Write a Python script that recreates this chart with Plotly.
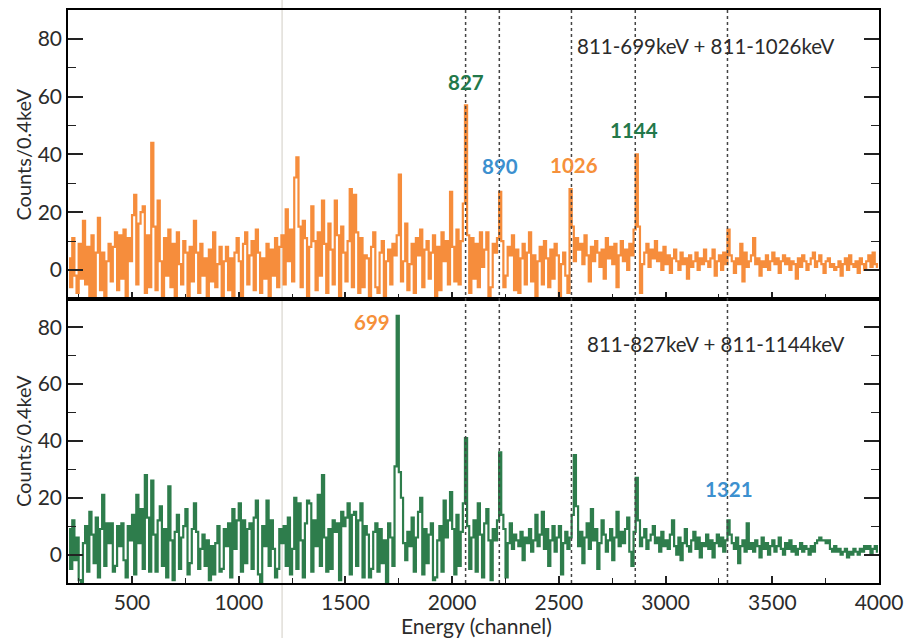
import plotly.graph_objects as go

# ---------------- data ----------------
BIN_START = 200
BIN_WIDTH = 10

# Top panel: gate 811-699keV + 811-1026keV (orange), counts per 10-channel bin
top_counts = [
    4, -6, 11, -2, -8, 9, -3, 17, -5, 8, -9, 12, -12, 6, 18, -7, 6, -11, 3, 9,
    -4, 8, 13, -7, 12, -3, 14, -9, 11, 3, 19, 26, -5, 16, 20, 22, -8, 12, -6, 44,
    15, -7, 24, 3, -10, 11, -2, 14, -6, 9, -9, 13, 2, -5, 10, 6, -11, 8, -4, 17,
    6, -8, 9, -2, 4, -12, 7, -4, 13, -6, 2, 8, -11, 3, 8, -7, 4, -9, 6, 11,
    3, -10, 9, 13, -5, 5, 10, -7, 14, 6, -8, 4, -3, 9, -12, 7, -2, 11, -6, 8,
    12, -5, 21, 3, 14, -4, 32, 39, 15, -6, 17, 11, -9, 8, 22, 10, -7, 13, -2, 24,
    9, -8, 16, 7, -5, 24, 12, -9, 15, 6, -4, 10, 28, -6, 26, 13, -8, 11, -6, 5,
    4, -9, 8, 13, -6, -8, 6, 10, -10, 3, 7, -5, 9, 5, 12, 33, -4, 3, 16, -7,
    2, 9, -8, 11, 5, 14, -6, 7, 10, -3, 6, 12, -9, 8, -7, 13, 3, 10, -5, 27,
    8, -4, 14, -5, 10, 23, 57, 12, -8, 11, -3, 9, -6, 13, 1, 7, 13, -9, -6, 9,
    6, 11, 27, 10, -6, -2, 8, 5, 12, -7, 7, -8, 4, 9, -5, 6, 13, -4, 5, -9,
    3, 8, -5, 10, 4, -6, 7, -3, 9, 5, -10, 2, 6, -2, -8, 28, 15, 3, 11, 7,
    9, 2, 12, 5, -4, 8, 3, 10, 6, 1, 7, -3, 11, 4, 8, 2, 9, -6, 5, 10,
    3, 7, 0, 9, 5, 14, 40, 15, -8, 2, 6, 9, 1, 7, 4, 10, 3, 6, 0, 8,
    2, 5, -1, 4, 7, 3, 0, 6, 2, 4, -3, 5, 1, 3, 6, 0, 4, 2, 7, 3,
    1, 4, 7, -2, 3, 5, 0, 6, 2, 14, 5, 3, -1, 4, 2, 9, -4, 6, 1, 3,
    5, 11, 2, 4, -2, 3, 1, 5, 0, 3, 6, 2, 4, -1, 3, 5, 2, 4, 0, 3,
    2, -3, 4, 1, 5, 3, 0, 2, 4, 6, 1, 3, 5, 2, -1, 3, 4, 1, 2, 0,
    1, 3, -2, 2, 4, 0, 5, 2, 1, 3, -1, 4, 2, 0, 3, 5, 1, 6, 2, 1,
]

# Bottom panel: gate 811-827keV + 811-1144keV (green)
bottom_counts = [
    9, -5, 12, -2, 6, -9, -11, 4, 10, -6, 15, 7, -3, 13, -8, 9, 21, -4, 11, 4,
    11, -6, -4, 10, 3, 11, -2, -8, 10, 5, 14, -7, 21, 4, 16, -5, 28, 13, -6, 26,
    7, -6, 12, 17, -4, 9, -8, 24, 5, -9, 8, 14, -5, 6, 10, 16, -7, -3, 9, 18,
    8, -5, 2, 7, -4, 5, -9, 3, -7, 4, 10, -6, -5, 9, 3, 11, -8, 16, 2, 12,
    18, -6, 12, -3, 9, 11, -5, 13, 19, -7, -10, 10, 3, 19, -4, 12, 2, -8, -5, 9,
    4, 10, -4, 13, -7, 2, 20, -5, 18, 5, -8, 11, 19, 18, -6, 12, 3, 21, -4, 28,
    6, -6, 9, -5, 12, 8, 11, -9, 15, 10, 13, 18, -7, 14, 15, -4, 12, 18, -8, 10,
    7, -8, -5, 8, 11, -6, 9, -3, 5, -10, 11, 6, -4, 31, 84, 29, 20, 4, -2, 8,
    3, 13, -6, 6, 15, 20, -7, 9, -3, 7, 11, -9, -8, 5, 10, -6, 19, 6, 12, 22,
    9, -7, 14, -4, 8, 18, 41, 10, -5, 6, 12, -6, 18, 7, -8, 11, 16, 5, -9, 9,
    5, 12, 36, 14, 9, -8, 4, 11, 2, 7, 5, 3, 8, -2, 6, 4, 9, 1, 5, 14,
    3, 7, 15, 2, 9, -4, 5, 10, 1, 6, 10, -7, 4, 8, 2, 6, 14, 35, 17, 3,
    8, -3, 6, 11, 2, 16, 5, 9, -5, 4, 12, 7, 1, 5, 9, -2, 6, 15, 3, 8,
    4, 9, 13, 1, -4, 8, 27, 12, 3, 6, 9, 2, 5, 7, 10, 4, 6, 1, 8, 3,
    5, 2, 7, 12, 3, 0, 6, -2, 4, 9, 3, 1, 5, 8, 2, 6, -1, 4, 3, 7,
    2, 5, -1, 4, 7, 3, 6, 1, 5, 12, 7, 4, 2, 6, -3, 3, 5, 1, 11, 2,
    4, 1, 5, 3, -1, 6, 2, 4, 0, 3, 5, 1, 3, 6, 2, 0, 4, 2, 5, 1,
    3, 0, 2, 4, 1, 3, 2, 0, 3, 1, 4, 5, 6, 5, 5, 4, 5, 2, 1, 3,
    1, 2, 0, 1, 2, -1, 1, 0, 2, 1, 0, 2, 1, 3, 2, 3, 0, 2, 3, 1,
]

# Peak positions (channel) marked with dotted lines
peak_channels = [2063, 2221, 2559, 2858, 3290]

# Peak labels: (text, channel, counts, colour-key)
top_labels = [("827", 2063, 65, "green"), ("890", 2222, 36, "blue"),
              ("1026", 2571, 36.5, "orange"), ("1144", 2852, 48.5, "green")]
bottom_labels = [("699", 1624, 82, "orange"), ("1321", 3295, 23, "blue")]

top_gate_text = "811-699keV + 811-1026keV"
bottom_gate_text = "811-827keV + 811-1144keV"

x_ticks = [500, 1000, 1500, 2000, 2500, 3000, 3500, 4000]
y_ticks = [0, 20, 40, 60, 80]

# ---------------- styling ----------------
ORANGE = "#F68D3C"
GREEN = "#2E7D4C"
LABEL_COLORS = {"green": "#23784A", "blue": "#3C90CF", "orange": "#F6903A"}
FONT = "Lato, 'Open Sans', sans-serif"
TXT = "#2b2b2b"

centers_top = [BIN_START + BIN_WIDTH * (i + 0.5) for i in range(len(top_counts))]
centers_bot = [BIN_START + BIN_WIDTH * (i + 0.5) for i in range(len(bottom_counts))]

fig = go.Figure()
fig.add_trace(go.Scatter(x=centers_top, y=top_counts, mode="lines",
                         line=dict(color=ORANGE, width=2.2, shape="hvh"),
                         xaxis="x", yaxis="y", showlegend=False))
fig.add_trace(go.Scatter(x=centers_bot, y=bottom_counts, mode="lines",
                         line=dict(color=GREEN, width=2.2, shape="hvh"),
                         xaxis="x2", yaxis="y2", showlegend=False))

split = 0.496
common_x = dict(range=[200, 4000], showline=True, linecolor="black", linewidth=1.5,
                mirror=True, ticks="inside", ticklen=7, tickwidth=1.5, tickcolor="#222",
                tickvals=x_ticks, showgrid=False, zeroline=False,
                minor=dict(dtick=250, tick0=0, ticks="inside", ticklen=5, tickwidth=1.2,
                           tickcolor="#222"))
common_y = dict(range=[-10, 90], showline=True, linecolor="black", linewidth=1.5,
                mirror="ticks", ticks="inside", ticklen=15, tickwidth=1.5, tickcolor="#222",
                tickvals=y_ticks, showgrid=False, zeroline=False,
                tickfont=dict(family=FONT, size=21, color=TXT),
                minor=dict(dtick=10, tick0=0, ticks="inside", ticklen=8, tickwidth=1.2,
                           tickcolor="#222"))

fig.update_layout(
    width=911, height=638,
    margin=dict(l=68, r=29, t=8, b=55),
    paper_bgcolor="white", plot_bgcolor="white",
    font=dict(family=FONT, color=TXT),
    xaxis=dict(domain=[0, 1], anchor="y", showticklabels=False, **common_x),
    yaxis=dict(domain=[split, 1], anchor="x", **common_y),
    xaxis2=dict(domain=[0, 1], anchor="y2", showticklabels=True,
                tickfont=dict(family=FONT, size=21, color=TXT), **common_x),
    yaxis2=dict(domain=[0, split], anchor="x2", **common_y),
)

shapes = []
for ch in peak_channels:
    shapes.append(dict(type="line", xref="x", yref="paper", x0=ch, x1=ch, y0=0, y1=1,
                       line=dict(color="#444", width=1.5, dash="dot"), layer="above"))
# faint scan fold line
shapes.append(dict(type="line", xref="paper", yref="paper", x0=0.264, x1=0.264,
                   y0=-0.1, y1=1.02, line=dict(color="rgba(205,200,190,0.6)", width=1.5),
                   layer="below"))
fig.update_layout(shapes=shapes)

annotations = []
for text, ch, val, c in top_labels:
    annotations.append(dict(x=ch, y=val, xref="x", yref="y", text=f"<b>{text}</b>",
                            showarrow=False, font=dict(family=FONT, size=20.5,
                                                        color=LABEL_COLORS[c])))
for text, ch, val, c in bottom_labels:
    annotations.append(dict(x=ch, y=val, xref="x2", yref="y2", text=f"<b>{text}</b>",
                            showarrow=False, font=dict(family=FONT, size=20.5,
                                                        color=LABEL_COLORS[c])))
annotations.append(dict(x=3188, y=77.5, xref="x", yref="y", text=top_gate_text,
                        showarrow=False,
                        font=dict(family=FONT, size=20.5, color=TXT)))
annotations.append(dict(x=3234, y=74, xref="x2", yref="y2", text=bottom_gate_text,
                        showarrow=False,
                        font=dict(family=FONT, size=20.5, color=TXT)))
# axis titles
for yc in [(1 + split) / 2, split / 2]:
    annotations.append(dict(x=-0.0553, y=yc, xref="paper", yref="paper",
                            xanchor="center", yanchor="middle",
                            text="Counts/0.4keV", textangle=-90, showarrow=False,
                            font=dict(family=FONT, size=20, color=TXT)))
annotations.append(dict(x=0.504, y=-0.0745, xref="paper", yref="paper",
                        text="Energy (channel)", showarrow=False,
                        xanchor="center", yanchor="middle",
                        font=dict(family=FONT, size=21, color=TXT)))
fig.update_layout(annotations=annotations)

fig.write_html("out.html", post_script="document.body.style.margin='0';",
               config={"displayModeBar": False})
